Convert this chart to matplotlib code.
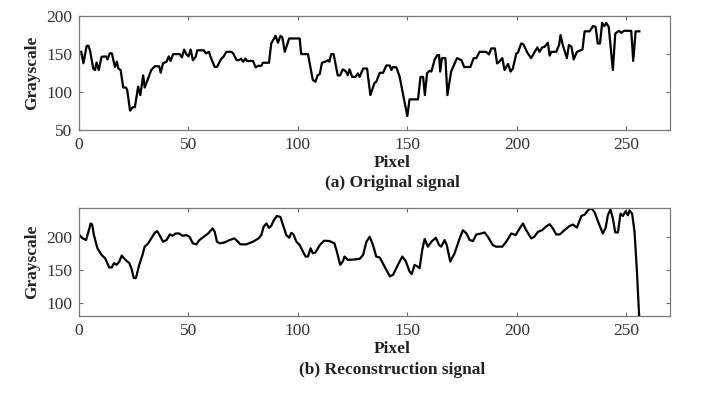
import matplotlib.pyplot as plt

# Original signal (vertices)
orig_x = [1, 2, 3.5, 4.3, 5, 6.5, 7.3, 8, 9, 10.3, 12.3, 13, 14, 15, 16.4, 17.2, 18, 19,
          20.2, 21.4, 22, 23.3, 24.5, 25.5, 27, 28, 29.3, 30, 31.6, 33, 34.6, 36.6, 37.3,
          38.4, 40, 41, 41.8, 43, 46, 47, 48, 49, 50, 51, 52, 53.3, 54, 57, 58, 59.4, 60,
          62, 63, 65, 66, 67.3, 69.6, 70.4, 72, 73, 74, 75, 76, 76.8, 79.5, 80.7, 81.8,
          83.3, 84, 86.8, 87.8, 89.8, 90.9, 92, 92.9, 94, 96, 100.8, 101.5, 104.6, 106.8,
          108, 109, 110, 111, 112.5, 113.7, 114.4, 115.2, 116.3, 118.2, 119.3, 120.5, 122,
          122.8, 123.6, 124.8, 126.3, 127.4, 128.2, 129.8, 131.6, 133.1, 135, 135.8, 137.4,
          138.9, 140.4, 142, 142.7, 143.5, 145, 146.5, 148.3, 150, 151, 154.9, 156, 157.2,
          158, 159, 160, 161, 162.5, 163.7, 164.5, 165, 165.8, 167.4, 168.3, 170, 172.7,
          174.7, 176, 178.8, 180.3, 181.5, 183, 186, 187.3, 188.4, 190, 191, 192, 193.4,
          194.4, 196, 197.2, 198.2, 199.8, 200.5, 202, 203, 205, 206.6, 208, 209.4, 210.4,
          211.6, 212.7, 214.2, 215, 215.8, 218, 219.3, 220, 221, 222.9, 223.8, 225, 226,
          227.5, 230, 231, 233.3, 234.8, 236, 237, 238, 239, 240, 240.9, 242, 243.9, 245,
          246.7, 247.7, 249, 252.3, 253.2, 254.3, 256]
orig_y = [153, 138, 161, 161, 155, 131, 129, 139, 129, 146.5, 147, 143, 151, 151, 133, 140,
          131, 129, 106, 106, 103, 75.5, 80, 80, 107, 96, 122, 106, 118, 129, 134, 134,
          125.5, 138, 140, 147, 141, 150, 150, 145.6, 156, 150, 147, 156, 142, 146.5, 155,
          155, 151, 153, 147, 133, 133, 144, 146.5, 153, 153, 151, 142, 142, 144, 140, 144,
          141, 141, 132.5, 134.6, 134.6, 138.6, 138.6, 164, 174, 165, 174, 172, 153, 170.6,
          170.6, 150, 150, 116, 113.6, 122, 123.7, 138.6, 140, 142, 140, 150, 150, 122,
          122, 130, 127, 122, 130, 120, 120, 124.6, 120, 131, 131, 96, 112, 113.6, 125.4,
          125.4, 135, 135, 129, 133, 132.5, 120, 93, 68.4, 90.4, 90.4, 120, 120, 96, 124.6,
          128, 127, 143, 148.7, 148.7, 127, 144.7, 144.7, 96, 127, 144.7, 142, 133, 133,
          144.7, 144.7, 153, 153, 149.6, 157.5, 157.5, 137.7, 140, 144.7, 129, 137, 127, 131,
          151, 151.7, 164, 163, 151, 144.7, 152, 158.8, 153, 158.8, 159.6, 165, 148, 153,
          153, 162, 175, 162, 144.7, 162, 159.6, 143, 153, 156, 180, 180, 186.8, 186, 164,
          164, 191, 186.8, 191, 186, 129, 177.2, 180.7, 178, 180.7, 180.7, 141, 180, 180]

# Reconstruction signal
rec_x = [0.5, 1.7, 3.2, 4.3, 5.3, 6, 6.8, 8.4, 10.3, 11.9, 12.9, 13.8, 14.9, 16, 17.2, 18.4,
         19.5, 20.5, 21.7, 23, 24, 25, 26, 27.5, 29, 30, 31.6, 33, 34.6, 35.7, 36.6, 38.4,
         40, 41.5, 42.7, 44.2, 45.7, 47.3, 49, 50.5, 52, 53.6, 55, 57, 59, 61, 62, 63,
         64.3, 66.6, 68.8, 71, 72.6, 73.7, 76.4, 79.5, 82, 83.3, 84.3, 85.6, 86.8, 87.8,
         89, 90.4, 92, 93, 94.7, 96, 97, 98, 99.3, 100.8, 102.3, 103.5, 104.6, 105.8,
         106.8, 108, 110, 112, 114.4, 116.7, 118.2, 119.3, 120.5, 121.3, 122.8, 125.5,
         128.2, 129.8, 131.3, 132.8, 134.3, 135.8, 137.4, 139.6, 142, 143.5, 145.7, 147.7,
         149.2, 151, 152, 153.3, 154.6, 155.6, 156.8, 157.9, 159.4, 161, 163, 164.5, 165.5,
         167, 168, 169.6, 171.6, 173.9, 175.4, 177, 178.5, 180, 181.5, 183.8, 185.3, 186.8,
         189, 190.6, 193.4, 195.2, 197.5, 199.5, 201.3, 202.8, 204.3, 206.6, 208, 209.7,
         211.6, 213.2, 215, 216.5, 218, 219.6, 221.8, 224, 225.6, 227.5, 229.5, 231, 232.5,
         234, 235.5, 237.5, 239.3, 240.6, 241.6, 242.8, 243.9, 245, 246.2, 247.4, 248.5,
         249.7, 250.8, 251.5, 252.7, 253.8, 254.9, 256.5]
rec_y = [201.5, 197.5, 195, 207.5, 220, 218.5, 202.5, 182.5, 172.5, 167.5, 160, 153.5, 153.5,
         160, 157.5, 162.5, 171.5, 167.5, 163.5, 160, 151.5, 137.5, 137.5, 157.5, 172.5, 185,
         190, 197.5, 206, 208.5, 203.5, 192.5, 195, 203.5, 201.5, 205, 205, 201.5, 202.5,
         200, 190, 188.5, 195, 200, 205, 212.5, 207.5, 192.5, 190, 191.5, 195, 197.5, 192.5,
         188.5, 188.5, 192.5, 197.5, 202.5, 215, 220, 213.5, 216.5, 225, 231.5, 230, 220,
         202.5, 198.5, 206, 203.5, 192.5, 187.5, 177.5, 170, 170, 182.5, 175, 176, 187.5,
         194, 193.5, 190, 172.5, 157.5, 162.5, 170, 165, 165.5, 166.5, 172.5, 192.5, 200,
         187.5, 170, 168.5, 155, 140, 142.5, 157.5, 170, 163.5, 147.5, 143.5, 157.5, 155,
         152.5, 180, 196.5, 185, 192.5, 198.5, 187.5, 185, 195, 187.5, 162.5, 175, 197.5,
         210, 205, 195, 193.5, 203.5, 205, 206.5, 200, 187.5, 185, 185, 192.5, 205, 202.5,
         212.5, 220, 210, 197.5, 200, 207.5, 210, 215, 219, 212.5, 203.5, 203.5, 210, 216,
         218.5, 214, 231.5, 233.5, 240, 243.5, 237.5, 220, 205, 213.5, 232.5, 241.5, 227.5,
         206.5, 206.5, 235, 231.5, 238.5, 232.5, 240, 235, 207.5, 147.5, 40]

xticks = [0, 50, 100, 150, 200, 250]

plt.rcParams['font.family'] = ['Liberation Serif', 'DejaVu Serif']

fig = plt.figure(figsize=(7.12, 3.94), dpi=100)
ax1 = fig.add_axes([0.111, 0.670, 0.830, 0.289])
ax2 = fig.add_axes([0.111, 0.198, 0.830, 0.274])

ax1.plot(orig_x, orig_y, color='black', lw=1.6)
ax1.set_ylim(50, 200)
ax1.set_yticks([50, 100, 150, 200])

ax2.plot(rec_x, rec_y, color='black', lw=1.6)
ax2.set_ylim(80, 243.5)
ax2.set_yticks([100, 150, 200])

for ax in (ax1, ax2):
    ax.set_xlim(0, 270)
    ax.set_xticks(xticks)
    ax.tick_params(direction='in', length=3, width=0.8, top=True, right=True,
                   labelsize=12.5, colors='#6a6a6a', labelcolor='#333333', pad=5)
    for s in ax.spines.values():
        s.set_color('#7a7a7a')
        s.set_linewidth(0.9)
    ax.set_ylabel('Grayscale', fontsize=12.5, fontweight='bold', color='#222222')
    ax.yaxis.set_label_coords(-0.066, 0.5)

fig.text(0.551, 0.586, 'Pixel', ha='center', va='center', fontsize=12.5, fontweight='bold', color='#222222')
fig.text(0.551, 0.536, '(a) Original signal', ha='center', va='center', fontsize=12.5,
         fontweight='bold', color='#222222')
fig.text(0.551, 0.114, 'Pixel', ha='center', va='center', fontsize=12.5, fontweight='bold', color='#222222')
fig.text(0.551, 0.061, '(b) Reconstruction signal', ha='center', va='center', fontsize=12.5,
         fontweight='bold', color='#222222')

fig.savefig('out.png', dpi=100, facecolor='white')
